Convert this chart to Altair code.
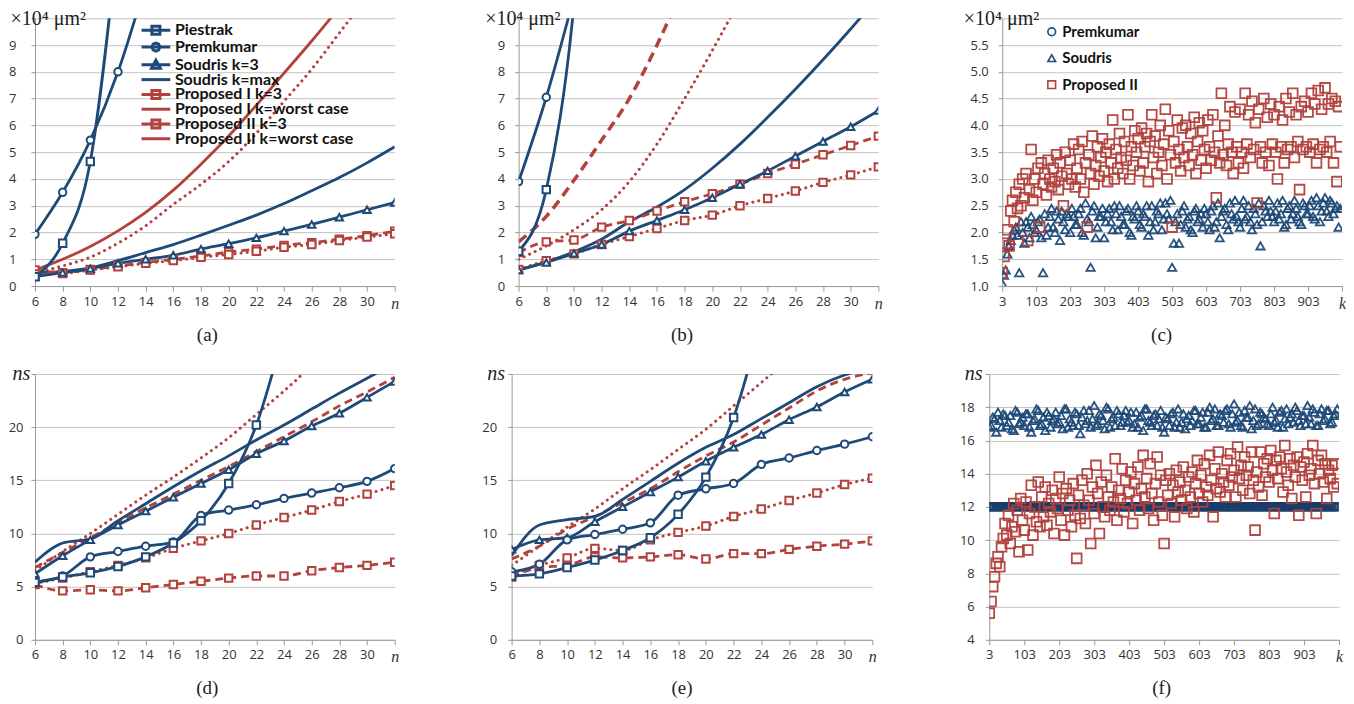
import altair as alt
import pandas as pd

BLUE = "#1f4a78"
RED = "#b3413c"
AXC = "#9a9a9a"
GRIDC = "#c4c4c4"

N = [6, 8, 10, 12, 14, 16, 18, 20, 22, 24, 26, 28, 30, 32]

# ---------------- (a) area, x10^4 um^2 ----------------
A_PIESTRAK = [0.35, 1.6, 4.65, 13.0]
A_PREMKUMAR = [1.93, 3.5, 5.45, 8.0, 11.3]
A_SOUDRIS3 = [0.35, 0.5, 0.65, 0.85, 1.0, 1.15, 1.38, 1.58, 1.8, 2.05, 2.3, 2.57, 2.85, 3.12]
A_SOUDRISMAX = [0.5, 0.55, 0.68, 0.95, 1.25, 1.55, 1.9, 2.27, 2.65, 3.08, 3.56, 4.05, 4.6, 5.2]
A_PI3 = [0.6, 0.5, 0.62, 0.75, 0.88, 1.0, 1.12, 1.27, 1.38, 1.52, 1.62, 1.75, 1.88, 2.05]
A_PIW = [0.6, 1.0, 1.48, 2.06, 2.75, 3.58, 4.55, 5.6, 6.75, 7.95, 9.15, 10.4]
A_PII3 = [0.45, 0.47, 0.6, 0.72, 0.85, 0.95, 1.07, 1.18, 1.3, 1.45, 1.55, 1.7, 1.83, 1.95]
A_PIIW = [0.5, 0.75, 1.08, 1.6, 2.25, 3.05, 3.8, 4.65, 5.7, 6.9, 8.1, 9.45, 10.8]

# ---------------- (b) area, x10^4 um^2 ----------------
B_PIESTRAK = [1.3, 3.6, 10.5, 25.0]
B_PREMKUMAR = [3.9, 7.05, 10.8]
B_SOUDRIS3 = [0.6, 0.88, 1.22, 1.55, 2.05, 2.45, 2.85, 3.3, 3.8, 4.3, 4.85, 5.4, 5.95, 6.55]
B_SOUDRISMAX = [0.6, 0.9, 1.28, 1.75, 2.4, 2.95, 3.6, 4.4, 5.3, 6.3, 7.35, 8.45, 9.6, 10.8]
B_PI3 = [1.25, 1.65, 1.72, 2.2, 2.45, 2.8, 3.15, 3.45, 3.8, 4.2, 4.55, 4.9, 5.25, 5.6]
B_PIW = [1.65, 2.6, 3.95, 5.45, 7.0, 9.0, 11.3]
B_PII3 = [0.62, 0.95, 1.2, 1.55, 1.85, 2.15, 2.45, 2.65, 3.0, 3.27, 3.55, 3.87, 4.15, 4.45]
B_PIIW = [1.0, 1.5, 2.1, 2.85, 3.9, 5.3, 7.0, 8.8, 10.7]

# ---------------- (d) delay, ns ----------------
D_PIESTRAK = [5.4, 5.9, 6.3, 6.9, 7.8, 9.1, 11.2, 14.7, 20.2, 29.0]
D_PREMKUMAR = [5.4, 6.0, 7.8, 8.3, 8.8, 9.2, 11.7, 12.2, 12.7, 13.3, 13.8, 14.3, 14.9, 16.1]
D_SOUDRIS3 = [6.2, 7.9, 9.4, 10.8, 12.1, 13.4, 14.7, 16.0, 17.5, 18.7, 20.1, 21.3, 22.8, 24.3]
D_SOUDRISMAX = [7.3, 9.1, 9.5, 11.2, 12.8, 14.4, 15.9, 17.3, 18.8, 20.2, 21.7, 23.2, 24.6, 26.0]
D_PI3 = [5.2, 4.6, 4.7, 4.6, 4.9, 5.2, 5.5, 5.8, 6.0, 6.0, 6.5, 6.8, 7.0, 7.3]
D_PIW = [6.8, 8.2, 9.6, 11.0, 12.4, 13.7, 15.0, 16.3, 17.7, 19.1, 20.5, 22.0, 23.3, 24.7]
D_PII3 = [5.3, 5.8, 6.4, 7.0, 7.7, 8.6, 9.3, 10.0, 10.8, 11.5, 12.2, 13.0, 13.7, 14.5]
D_PIIW = [6.5, 8.3, 10.0, 11.8, 13.6, 15.3, 17.1, 19.0, 21.2, 23.4, 25.8]

# ---------------- (e) delay, ns ----------------
E_PIESTRAK = [6.0, 6.2, 6.8, 7.5, 8.4, 9.6, 11.8, 15.3, 20.9, 30.0]
E_PREMKUMAR = [6.4, 7.1, 9.4, 9.9, 10.4, 11.0, 13.6, 14.2, 14.7, 16.5, 17.1, 17.8, 18.4, 19.1]
E_SOUDRIS3 = [8.5, 9.4, 9.6, 11.1, 12.5, 13.9, 15.3, 16.8, 18.1, 19.3, 20.7, 21.9, 23.3, 24.5]
E_SOUDRISMAX = [7.9, 10.8, 11.3, 11.6, 13.2, 14.9, 16.6, 18.1, 19.3, 20.8, 22.3, 23.8, 24.9, 25.6]
E_PI3 = [5.9, 6.8, 7.0, 7.8, 7.7, 7.8, 8.0, 7.6, 8.1, 8.1, 8.5, 8.8, 9.0, 9.3]
E_PIW = [7.6, 8.8, 10.4, 11.6, 12.9, 14.2, 15.8, 17.3, 18.6, 20.2, 21.8, 23.4, 24.5, 25.1]
E_PII3 = [6.1, 7.0, 7.7, 8.6, 8.4, 9.4, 10.1, 10.7, 11.6, 12.3, 13.1, 13.8, 14.6, 15.2]
E_PIIW = [7.0, 8.8, 10.6, 12.3, 14.2, 16.0, 17.9, 19.8, 22.0, 24.2, 26.5]

# ---------------- (c), (f) scatter over k ----------------
K5 = list(range(3, 1003, 5))
K10 = list(range(3, 1003, 10))
K10B = list(range(8, 1003, 10))

C_PROPOSED2 = [
    1.25, 1.55, 1.8, 2.05, 1.75, 2.4, 2.6, 2.2, 2.75, 2.45,
    2.9, 2.5, 3.0, 2.65, 3.1, 1.85, 2.8, 3.55, 2.6, 3.0,
    2.75, 3.2, 2.1, 3.3, 2.9, 3.1, 2.7, 3.35, 3.0, 2.85,
    3.2, 2.95, 3.45, 2.8, 3.3, 3.05, 2.5, 3.5, 3.1, 2.9,
    3.35, 3.0, 3.65, 2.85, 3.2, 3.55, 3.0, 3.7, 2.75, 3.3,
    2.1, 3.45, 3.1, 3.8, 2.9, 3.25, 3.6, 3.05, 3.4, 3.75,
    3.15, 3.5, 2.95, 3.65, 3.3, 4.1, 3.0, 3.55, 3.2, 3.85,
    3.4, 3.1, 3.7, 3.35, 4.2, 3.0, 3.6, 3.25, 3.9, 3.5,
    3.75, 3.15, 3.95, 3.3, 3.6, 3.85, 2.95, 3.7, 4.2, 3.4,
    3.8, 3.1, 3.5, 4.0, 3.25, 3.65, 4.3, 3.0, 3.9, 3.45,
    2.1, 3.7, 3.3, 4.1, 3.55, 3.15, 3.95, 3.4, 4.0, 3.6,
    3.25, 3.85, 3.45, 4.15, 3.1, 3.7, 4.05, 3.35, 3.9, 3.55,
    3.2, 4.1, 3.6, 3.35, 4.2, 3.5, 2.65, 3.8, 3.3, 4.6,
    3.45, 4.0, 3.25, 3.65, 4.35, 3.5, 3.1, 4.25, 3.6, 3.3,
    4.3, 3.5, 3.2, 4.6, 3.65, 4.2, 3.4, 4.45, 3.55, 4.05,
    2.55, 4.3, 3.6, 3.3, 4.5, 3.5, 4.15, 3.25, 4.4, 3.65,
    4.2, 3.5, 3.0, 4.35, 3.6, 4.1, 3.3, 4.5, 3.55, 4.25,
    3.6, 4.6, 3.4, 4.2, 3.7, 2.8, 4.35, 3.55, 4.45, 3.6,
    4.25, 3.5, 4.6, 3.65, 4.4, 3.3, 4.65, 3.55, 4.3, 3.6,
    4.7, 3.5, 4.4, 3.7, 4.5, 3.3, 4.45, 2.95, 4.35, 3.6,
]
C_SOUDRIS = [
    1.05, 1.3, 1.75, 1.95, 2.1, 1.25, 2.0, 2.2, 1.9, 2.15,
    2.05, 2.25, 1.25, 1.95, 2.3, 2.1, 2.4, 1.85, 2.2, 2.35,
    2.0, 2.3, 2.15, 2.45, 1.95, 2.25, 1.35, 2.5, 2.1, 2.3,
    1.9, 2.35, 2.2, 2.5, 2.05, 2.3, 2.15, 2.45, 1.95, 2.25,
    2.4, 2.1, 2.3, 1.95, 2.5, 2.2, 2.35, 2.05, 2.55, 2.25,
    1.35, 2.2, 1.8, 2.4, 2.1, 2.3, 2.0, 2.45, 2.25, 2.1,
    2.35, 2.05, 2.5, 2.2, 1.9, 2.4, 2.15, 2.55, 2.25, 2.3,
    2.1, 2.6, 2.3, 2.2, 2.45, 2.15, 1.75, 2.5, 2.3, 2.4,
    2.2, 2.55, 2.35, 2.1, 2.45, 2.25, 2.6, 2.3, 2.15, 2.5,
    2.35, 2.6, 2.25, 2.5, 2.4, 2.65, 2.3, 2.55, 2.45, 2.1,
]
C_SOUDRIS_B = [
    1.2, 1.6, 1.85, 2.05, 1.95, 2.2, 1.8, 2.1, 2.3, 2.0,
    2.2, 1.9, 2.35, 2.1, 2.45, 2.0, 2.25, 2.4, 2.05, 2.3,
    2.45, 2.15, 2.35, 2.0, 2.55, 2.2, 2.4, 1.9, 2.3, 2.45,
    2.2, 2.45, 2.05, 2.35, 2.5, 2.15, 2.4, 2.0, 2.3, 2.5,
    2.15, 2.35, 2.5, 2.2, 2.05, 2.4, 2.55, 2.25, 2.35, 2.6,
    1.8, 2.35, 2.15, 2.5, 2.25, 2.05, 2.4, 2.2, 2.35, 2.45,
    2.2, 2.4, 2.1, 2.55, 2.3, 2.45, 2.05, 2.35, 2.6, 2.2,
    2.45, 2.25, 2.5, 2.05, 2.35, 2.55, 2.2, 2.4, 2.6, 2.3,
    2.4, 2.25, 2.6, 2.15, 2.5, 2.35, 2.45, 2.2, 2.55, 2.35,
    2.5, 2.3, 2.65, 2.2, 2.55, 2.4, 2.6, 2.35, 2.5, 2.45,
]
F_PROPOSED2 = [
    5.6, 6.3, 7.2, 7.8, 8.6, 9.0, 8.4, 9.6, 10.1, 11.0,
    10.3, 11.5, 9.8, 10.8, 12.2, 10.5, 11.8, 9.3, 12.5, 11.2,
    10.6, 12.3, 9.4, 11.6, 13.3, 10.3, 12.0, 11.1, 13.5, 10.8,
    12.6, 11.4, 13.2, 10.9, 12.2, 11.7, 13.0, 10.4, 12.5, 11.9,
    13.8, 11.2, 12.8, 10.3, 13.1, 11.8, 12.4, 10.8, 13.4, 11.5,
    8.9, 12.7, 11.3, 13.6, 12.1, 11.0, 14.0, 12.4, 9.8, 13.2,
    11.6, 14.5, 12.8, 10.4, 13.5, 12.0, 11.4, 13.9, 12.6, 11.8,
    13.2, 12.3, 14.9, 11.2, 13.0, 12.5, 14.3, 11.7, 13.6, 12.2,
    12.9, 14.1, 11.0, 13.4, 12.4, 14.4, 11.8, 13.1, 15.1, 12.6,
    13.7, 11.9, 14.6, 12.8, 11.2, 13.4, 15.0, 12.3, 13.9, 11.5,
    9.8, 13.6, 12.7, 14.0, 12.2, 13.3, 11.4, 14.2, 12.9, 13.5,
    12.4, 14.4, 13.0, 11.9, 13.8, 12.6, 14.1, 11.7, 13.4, 14.8,
    12.8, 13.9, 12.3, 14.6, 13.2, 12.7, 15.1, 13.6, 11.4, 14.3,
    13.1, 15.3, 12.9, 14.0, 13.5, 12.6, 14.8, 13.3, 15.2, 13.8,
    14.2, 12.6, 15.6, 13.7, 14.5, 13.0, 15.0, 13.9, 14.4, 12.8,
    15.3, 13.6, 10.6, 14.1, 13.2, 15.3, 12.7, 14.6, 13.8, 14.9,
    13.5, 15.4, 14.2, 11.6, 14.8, 13.7, 15.0, 14.3, 12.9, 15.7,
    14.1, 13.3, 14.9, 12.5, 14.5, 13.8, 15.0, 11.5, 14.4, 13.6,
    14.7, 12.6, 15.2, 13.9, 14.3, 15.7, 13.4, 11.6, 14.8, 14.0,
    15.1, 13.5, 14.6, 12.5, 14.2, 13.7, 14.5, 13.2, 14.6, 13.4,
]
F_SOUDRIS = [
    16.8, 17.4, 16.5, 17.2, 17.6, 16.9, 17.5, 16.6, 17.7, 17.1,
    16.9, 17.6, 16.5, 17.3, 17.8, 17.0, 16.6, 17.5, 17.2, 17.7,
    17.1, 16.7, 17.9, 17.3, 16.9, 17.6, 16.4, 17.8, 17.2, 16.8,
    18.1, 17.0, 17.5, 16.7, 17.9, 17.3, 16.9, 17.6, 17.1, 17.8,
    17.2, 16.8, 17.7, 17.4, 16.6, 17.9, 17.1, 17.5, 16.9, 17.8,
    16.5, 17.3, 17.6, 16.8, 17.9, 17.1, 16.7, 17.5, 17.2, 17.8,
    17.0, 17.7, 16.8, 18.0, 17.3, 16.9, 17.6, 17.1, 17.9, 16.8,
    18.2, 17.2, 16.9, 17.8, 17.4, 16.7, 17.9, 17.0, 17.6, 17.3,
    16.9, 18.0, 17.2, 17.7, 16.8, 17.9, 17.4, 17.1, 17.8, 16.9,
    17.5, 18.1, 17.0, 17.7, 16.9, 17.9, 17.3, 17.8, 17.1, 17.6,
]
F_SOUDRIS_B = [
    16.9, 17.3, 17.7, 16.8, 17.5, 17.1, 16.7, 17.8, 17.0, 17.4,
    17.6, 16.8, 17.2, 17.9, 16.9, 17.4, 17.7, 16.8, 17.3, 17.0,
    17.5, 17.9, 16.8, 17.1, 17.7, 16.9, 17.4, 17.0, 17.8, 17.3,
    16.9, 17.6, 17.2, 18.0, 16.8, 17.4, 17.8, 16.9, 17.5, 17.1,
    17.7, 17.0, 16.8, 17.5, 17.9, 17.2, 16.9, 17.6, 17.3, 16.8,
    17.4, 16.9, 17.7, 17.1, 16.8, 17.6, 17.3, 16.9, 17.8, 17.0,
    17.4, 16.8, 17.7, 17.2, 17.9, 16.9, 17.5, 17.8, 17.0, 17.6,
    17.1, 17.7, 16.8, 17.4, 18.1, 17.2, 16.9, 17.7, 17.4, 17.0,
    17.6, 17.1, 16.8, 17.8, 17.3, 17.0, 17.6, 18.0, 17.2, 17.5,
    17.0, 17.4, 17.9, 16.9, 17.6, 17.2, 17.8, 17.0, 17.5, 17.9,
]
F_PREMKUMAR = [12.0] * len(K5)

LEGEND_A = ["Piestrak", "Premkumar", "Soudris k=3", "Soudris k=max",
            "Proposed I k=3", "Proposed I k=worst case",
            "Proposed II k=3", "Proposed II k=worst case"]
LEGEND_C = ["Premkumar", "Soudris", "Proposed II"]

# ---------------- styling ----------------
STYLE = {
    "solid": dict(strokeWidth=2.8),
    "dash": dict(strokeWidth=2.8, strokeDash=[8, 5]),
    "dashthick": dict(strokeWidth=3.5, strokeDash=[10, 6]),
    "dot": dict(strokeWidth=3.0, strokeDash=[0.1, 6], strokeCap="round"),
}
LINE = "M-3.6,0H3.6"
SQ = "M-1,-1H1V1H-1Z"
CI = "M-1,0L-0.7,-0.7L0,-1L0.7,-0.7L1,0L0.7,0.7L0,1L-0.7,0.7Z"
TRI = "M0,-1.15L1.1,0.85H-1.1Z"
LEG_A_PATHS = [LINE + SQ, LINE + CI, LINE + TRI, LINE, LINE + SQ, LINE, LINE + SQ, LINE]
LEG_A_COLORS = [BLUE, BLUE, BLUE, BLUE, RED, RED, RED, RED]

TICK_FONT = "Open Sans"
SERIF = "Liberation Serif"


def x_axis(values, last, lastlabel, caption, cap_x):
    cond = f"datum.value == {last}"
    return alt.Axis(
        values=values, grid=False, format="d",
        domainColor=AXC, tickColor=AXC, tickSize=5,
        labelExpr=f"{cond} ? '{lastlabel}' : datum.label",
        labelFont={"condition": {"test": cond, "value": SERIF}, "value": TICK_FONT},
        labelFontStyle={"condition": {"test": cond, "value": "italic"}, "value": "normal"},
        labelFontSize={"condition": {"test": cond, "value": 16}, "value": 13},
        labelColor="#333333", labelPadding=4, labelFlush=False,
        title=caption, titleFont=SERIF, titleFontSize=19, titleFontWeight="normal",
        titleColor="#222222", titlePadding=14, titleX=cap_x, titleAlign="center",
    )


def y_axis(values, top, fmt, unit, unit_x, unit_italic, label_pad):
    return alt.Axis(
        values=values, format=fmt, grid=True, gridColor=GRIDC, gridWidth=1,
        domainColor=AXC, tickColor=AXC, tickSize=4,
        labelExpr=f"datum.value >= {top} ? '' : datum.label",
        labelFont=TICK_FONT, labelFontSize=13, labelColor="#333333",
        labelPadding=label_pad,
        title=unit, titleAngle=0, titleX=unit_x, titleY=0, titleAlign="left",
        titleBaseline="middle", titleFont=SERIF, titleFontSize=20,
        titleFontWeight="normal", titleFontStyle="italic" if unit_italic else "normal",
        titleColor="#222222",
    )


def line_panel(series, ydom, yvals, yfmt, unit, unit_x, unit_italic, label_pad,
               caption, cap_x, w, h, legend=False):
    xe = alt.X("n:Q", scale=alt.Scale(domain=[6, 32], nice=False),
               axis=x_axis(N, 32, "n", caption, cap_x))
    ye = alt.Y("v:Q", scale=alt.Scale(domain=ydom, nice=False, zero=False),
               axis=y_axis(yvals, ydom[1], yfmt, unit, unit_x, unit_italic, label_pad))
    lines, points = [], []
    for name, vals, color, style, marker in series:
        df = pd.DataFrame({"n": N[:len(vals)], "v": vals})
        base = alt.Chart(df)
        lines.append(base.mark_line(color=color, interpolate="monotone", clip=True,
                                    **STYLE[style]).encode(x=xe, y=ye))
        if marker:
            points.append(base.mark_point(shape=marker, size=55, filled=True, fill="white",
                                          stroke=color, strokeWidth=2, opacity=1,
                                          clip=True).encode(x=xe, y=ye))
    layers = lines + points
    if legend:
        ldf = pd.DataFrame({"sa": LEGEND_A, "n": [-100] * len(LEGEND_A), "v": [0] * len(LEGEND_A)})
        leg = alt.Legend(orient="none", legendX=113, legendY=4, title=None,
                         labelFont="Lato", labelFontWeight="bold", labelFontSize=16,
                         labelColor="#111111", symbolSize=64, symbolStrokeWidth=3,
                         labelOffset=11, rowPadding=-3.2, gridAlign="none",
                         padding=0, labelLimit=400)
        layers.append(alt.Chart(ldf).mark_point(clip=True, filled=False, strokeWidth=3,
                                                size=64, opacity=1).encode(
            x=xe, y=ye,
            color=alt.Color("sa:N", scale=alt.Scale(domain=LEGEND_A, range=LEG_A_COLORS), legend=leg),
            shape=alt.Shape("sa:N", scale=alt.Scale(domain=LEGEND_A, range=LEG_A_PATHS), legend=leg),
        ))
    return alt.layer(*layers).properties(width=w, height=h)


def scatter_panel(sets, ydom, yvals, yfmt, unit, unit_x, unit_italic, label_pad,
                  caption, cap_x, w, h, legend=False):
    xe = alt.X("k:Q", scale=alt.Scale(domain=[3, 1003], nice=False),
               axis=x_axis(list(range(3, 1004, 100)), 1003, "k", caption, cap_x))
    ye = alt.Y("v:Q", scale=alt.Scale(domain=ydom, nice=False, zero=False),
               axis=y_axis(yvals, ydom[1], yfmt, unit, unit_x, unit_italic, label_pad))
    layers = []
    for ks, vals, color, shape, size in sets:
        df = pd.DataFrame({"k": ks[:len(vals)], "v": vals})
        layers.append(alt.Chart(df).mark_point(shape=shape, size=size, filled=False,
                                               color=color, strokeWidth=1.8, opacity=0.95,
                                               clip=True).encode(x=xe, y=ye))
    if legend:
        ldf = pd.DataFrame({"sc": LEGEND_C, "k": [-500] * 3, "v": [0] * 3})
        leg = alt.Legend(orient="none", legendX=42, legendY=6, title=None,
                         labelFont="Lato", labelFontWeight="bold", labelFontSize=15,
                         labelColor="#111111", symbolSize=60, symbolStrokeWidth=1.6,
                         labelOffset=3, rowPadding=10.5, padding=0)
        layers.append(alt.Chart(ldf).mark_point(clip=True, filled=False, size=60,
                                                strokeWidth=1.6, opacity=1).encode(
            x=xe, y=ye,
            color=alt.Color("sc:N", scale=alt.Scale(domain=LEGEND_C, range=[BLUE, BLUE, RED]), legend=leg),
            shape=alt.Shape("sc:N", scale=alt.Scale(domain=LEGEND_C,
                                                   range=["circle", "triangle-up", "square"]), legend=leg),
        ))
    return alt.layer(*layers).properties(width=w, height=h)


def series_set(pie, pre, s3, smax, pi3, piw, pii3, piiw, piw_style, piiw_style):
    return [
        ("Proposed I k=worst case", piw, RED, piw_style, None),
        ("Proposed II k=worst case", piiw, RED, piiw_style, None),
        ("Soudris k=max", smax, BLUE, "solid", None),
        ("Proposed I k=3", pi3, RED, "dash", "square"),
        ("Proposed II k=3", pii3, RED, "dot", "square"),
        ("Soudris k=3", s3, BLUE, "solid", "triangle-up"),
        ("Premkumar", pre, BLUE, "solid", "circle"),
        ("Piestrak", pie, BLUE, "solid", "square"),
    ]


TOP_H = 268
BOT_H = 266
AREA_TICKS = list(range(0, 11))
NS_TICKS = [0, 5, 10, 15, 20, 25]

pa = line_panel(series_set(A_PIESTRAK, A_PREMKUMAR, A_SOUDRIS3, A_SOUDRISMAX,
                           A_PI3, A_PIW, A_PII3, A_PIIW, "solid", "dot"),
                [0, 10], AREA_TICKS, "d", "×10⁴ μm²", -25, False, 15,
                "(a)", 172, 360, TOP_H, legend=True)
pb = line_panel(series_set(B_PIESTRAK, B_PREMKUMAR, B_SOUDRIS3, B_SOUDRISMAX,
                           B_PI3, B_PIW, B_PII3, B_PIIW, "dashthick", "dot"),
                [0, 10], AREA_TICKS, "d", "×10⁴ μm²", -34, False, 10,
                "(b)", 163, 360, TOP_H)
pc = scatter_panel([(K10, C_SOUDRIS, BLUE, "triangle-up", 70),
                    (K10B, C_SOUDRIS_B, BLUE, "triangle-up", 70),
                    (K5, C_PROPOSED2, RED, "square", 95)],
                   [1.0, 6.0], [1.0, 1.5, 2.0, 2.5, 3.0, 3.5, 4.0, 4.5, 5.0, 5.5, 6.0], ".1f",
                   "×10⁴ μm²", -39, False, 10, "(c)", 159, 340, TOP_H, legend=True)
pd_ = line_panel(series_set(D_PIESTRAK, D_PREMKUMAR, D_SOUDRIS3, D_SOUDRISMAX,
                            D_PI3, D_PIW, D_PII3, D_PIIW, "dash", "dot"),
                 [0, 25], NS_TICKS, "d", "ns", -23, True, 8,
                 "(d)", 172, 360, BOT_H)
pe = line_panel(series_set(E_PIESTRAK, E_PREMKUMAR, E_SOUDRIS3, E_SOUDRISMAX,
                           E_PI3, E_PIW, E_PII3, E_PIIW, "dash", "dot"),
                [0, 25], NS_TICKS, "d", "ns", -25, True, 11,
                "(e)", 170, 361, BOT_H)
pf = scatter_panel([(K10, F_SOUDRIS, BLUE, "triangle-up", 70),
                    (K10B, F_SOUDRIS_B, BLUE, "triangle-up", 70),
                    (K5, F_PREMKUMAR, "#1b3f6b", "circle", 60),
                    (K5, F_PROPOSED2, RED, "square", 95)],
                   [4, 20], [4, 6, 8, 10, 12, 14, 16, 18, 20], "d",
                   "ns", -25, True, 11, "(f)", 172, 350, BOT_H)

top = alt.hconcat(pa, pb, pc, spacing=124, bounds="flush").resolve_scale(
    color="independent", shape="independent")
bottom = alt.hconcat(pd_, pe, pf, spacing=117, bounds="flush")

chart = alt.vconcat(top, bottom, spacing=20).resolve_scale(
    color="independent", shape="independent"
).properties(
    padding={"left": 0, "top": 0, "right": 0, "bottom": 0}, background="white"
).configure_view(stroke=None)

chart.save("out.html", embed_options={"renderer": "svg", "actions": False})
